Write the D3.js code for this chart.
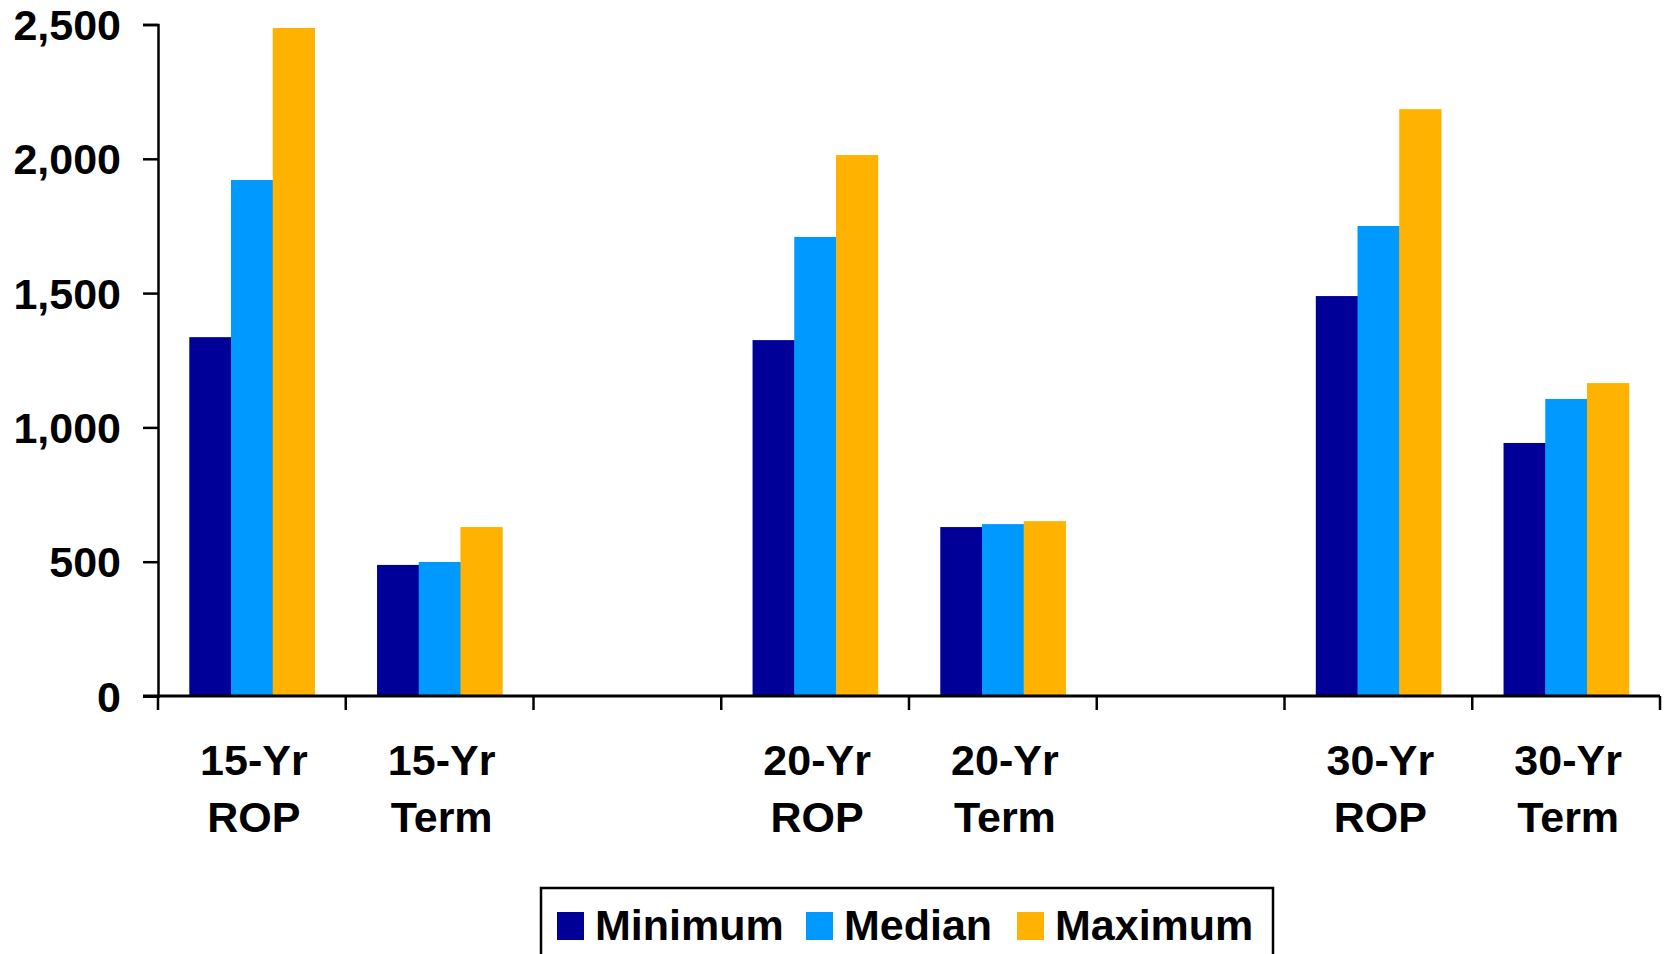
<!DOCTYPE html>
<html>
<head>
<meta charset="utf-8">
<script src="https://cdn.jsdelivr.net/npm/d3@7"></script>
<style>
  html, body { margin: 0; padding: 0; background: #fff; }
  svg { display: block; font-family: Arial, "Liberation Sans", sans-serif; font-weight: bold; }
</style>
</head>
<body>
<svg id="chart" width="1666" height="954"></svg>
<script>
// Categories along the x axis; empty slots separate the term groups
const categories = ["15-Yr ROP", "15-Yr Term", "", "20-Yr ROP", "20-Yr Term", " ", "30-Yr ROP", "30-Yr Term"];
const seriesNames = ["Minimum", "Median", "Maximum"];
const minimumValues = [1336, 488, null, 1325, 629, null, 1489, 942];
const medianValues  = [1921, 499, null, 1709, 640, null, 1750, 1106];
const maximumValues = [2487, 629, null, 2014, 651, null, 2185, 1165];
const yTicks = [0, 500, 1000, 1500, 2000, 2500];
const colors = ["#000099", "#0099FF", "#FFB300"];

const seriesValues = [minimumValues, medianValues, maximumValues];
const fontSize = 43;

const svg = d3.select("#chart");
const plotLeft = 158, plotRight = 1660, plotTop = 24.5, plotBottom = 696;

const x = d3.scaleBand().domain(categories).range([plotLeft, plotRight]).paddingInner(0).paddingOuter(0);
const xs = d3.scaleBand().domain(seriesNames).range([0, x.bandwidth()]).paddingInner(0).paddingOuter(0.75);
const y = d3.scaleLinear().domain([0, 2500]).range([plotBottom, plotTop]);

// Bars
categories.forEach((cat, ci) => {
  seriesNames.forEach((s, si) => {
    const v = seriesValues[si][ci];
    if (v == null) return;
    svg.append("rect")
      .attr("x", x(cat) + xs(s))
      .attr("y", y(v))
      .attr("width", xs.bandwidth() + 0.5)
      .attr("height", y(0) - y(v))
      .attr("fill", colors[si]);
  });
});

// Y axis
const yAxis = d3.axisLeft(y).tickValues(yTicks).tickFormat(d3.format(",")).tickSize(15).tickPadding(22);
const yg = svg.append("g").attr("transform", `translate(${plotLeft},0)`).call(yAxis);
yg.select(".domain").attr("stroke", "#000").attr("stroke-width", 2.5);
yg.selectAll(".tick line").attr("stroke", "#000").attr("stroke-width", 2.5);
yg.selectAll(".tick text").attr("fill", "#000").attr("font-size", fontSize).attr("font-weight", "bold")
  .attr("font-family", "Arial, 'Liberation Sans', sans-serif").attr("dy", "0.35em");

// X axis line with ticks at category boundaries
svg.append("line").attr("x1", plotLeft - 15).attr("x2", plotRight).attr("y1", plotBottom).attr("y2", plotBottom)
  .attr("stroke", "#000").attr("stroke-width", 3);
const boundaries = categories.map(c => x(c)).concat([x(categories[categories.length - 1]) + x.bandwidth()]);
svg.selectAll(".xtick").data(boundaries).join("line")
  .attr("class", "xtick")
  .attr("x1", d => d).attr("x2", d => d)
  .attr("y1", plotBottom).attr("y2", plotBottom + 14)
  .attr("stroke", "#000").attr("stroke-width", 2.5);

// Two-line category labels
categories.forEach(cat => {
  const words = cat.trim().split(" ").filter(w => w.length);
  if (!words.length) return;
  const cx = x(cat) + x.bandwidth() / 2 + 2;
  const t = svg.append("text")
    .attr("x", cx)
    .attr("text-anchor", "middle")
    .attr("font-size", fontSize)
    .attr("fill", "#000");
  words.forEach((w, i) => {
    t.append("tspan").attr("x", cx).attr("y", 775 + i * 57).text(w);
  });
});

// Legend
const legend = svg.append("g");
legend.append("rect").attr("x", 541).attr("y", 888).attr("width", 732).attr("height", 100)
  .attr("fill", "#fff").attr("stroke", "#000").attr("stroke-width", 2.5);
const legendX = [557, 806, 1017];
seriesNames.forEach((s, i) => {
  legend.append("rect").attr("x", legendX[i]).attr("y", 912).attr("width", 27).attr("height", 28).attr("fill", colors[i]);
  legend.append("text").attr("x", legendX[i] + 38).attr("y", 940).attr("font-size", fontSize).attr("fill", "#000").text(s);
});
</script>
</body>
</html>
